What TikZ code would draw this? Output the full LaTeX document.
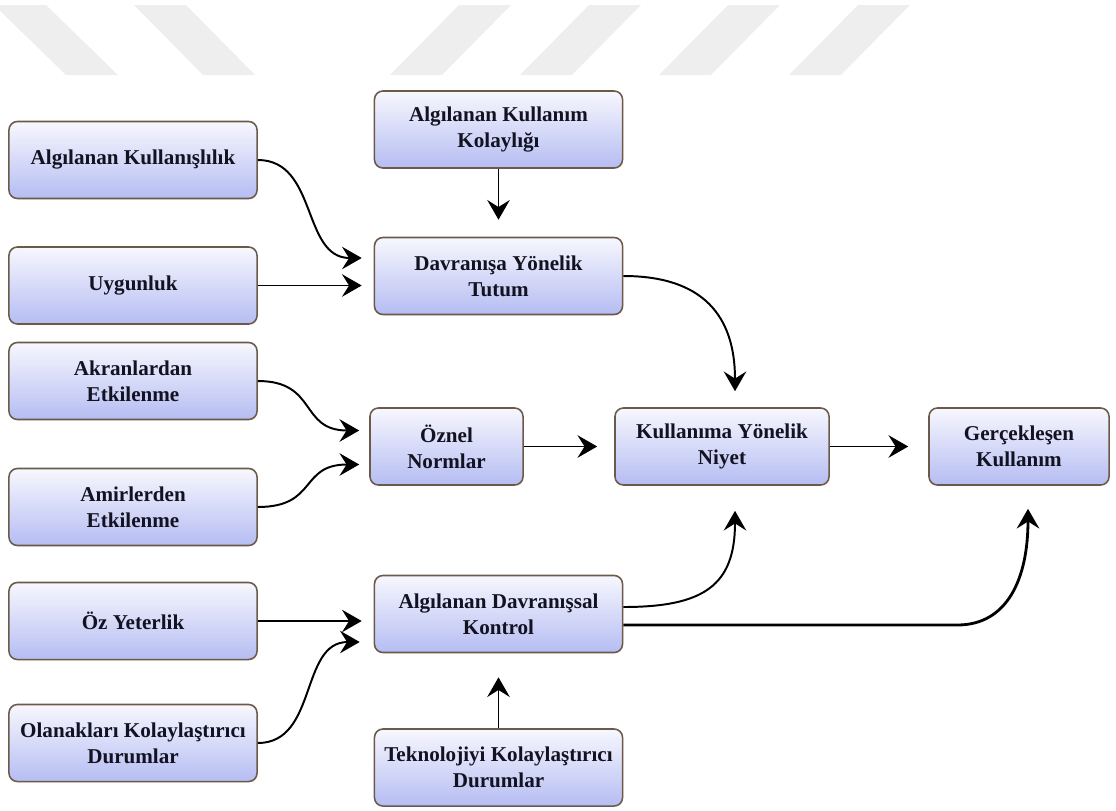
\documentclass[tikz,border=0pt]{standalone}
\usepackage{fontspec}
\setmainfont{Liberation Serif}
\usetikzlibrary{calc}
\usetikzlibrary{arrows.meta,shadows}
\usetikzlibrary{positioning}
\definecolor{boxedge}{rgb}{0.42,0.35,0.29}
\definecolor{boxtop}{rgb}{0.97,0.97,0.995}
\definecolor{boxbot}{rgb}{0.71,0.74,0.95}
\definecolor{wmgray}{rgb}{0.935,0.935,0.935}
\definecolor{ink}{rgb}{0.07,0.07,0.13}

\tikzset{
  factor/.style={draw=boxedge, line width=1.1pt, rounded corners=6pt,
    top color=boxtop, bottom color=boxbot,
    drop shadow={opacity=0.25, fill=brown!40, shadow xshift=0.7pt, shadow yshift=-0.7pt},
    minimum height=1.925cm, align=center, inner sep=2pt, text=ink,
    font=\fontsize{15}{18.5}\selectfont\bfseries},
  wide/.style={factor, minimum width=6.2cm},
  conn/.style={line width=1.4pt, -{Stealth[length=14pt,width=16pt,inset=5pt]}},
}

\begin{document}
\begin{tikzpicture}[x=0.025cm,y=-0.025cm]
  \useasboundingbox (0,0) rectangle (1116,810);
  \foreach \a/\b in {-6/66,134/203}
    \fill[wmgray] (\a,5) -- ++(52,0) -- (\b+52,75) -- (\b,75) -- cycle;
  \foreach \a in {390,520,659,789}
    \fill[wmgray] (\a,75) -- ++(52,0) -- ++(69,-70) -- ++(-52,0) -- cycle;

  \node[wide] (ak) at (133,160) {Algılanan Kullanışlılık};
  \node[wide] (uy) at (133,285.5) {Uygunluk};
  \node[wide] (ae) at (133,381) {Akranlardan\\Etkilenme};
  \node[wide] (ame) at (133,507) {Amirlerden\\Etkilenme};
  \node[wide] (oy) at (133,621) {Öz Yeterlik};
  \node[wide] (okd) at (133,743) {Olanakları Kolaylaştırıcı\\Durumlar};

  \node[wide] (akk) at (498.5,129.5) {Algılanan Kullanım\\Kolaylığı};
  \node[wide] (dyt) at (498.5,276) {Davranışa Yönelik\\Tutum};
  \node[factor, minimum width=3.825cm] (on) at (446.5,446.5) {Öznel\\Normlar};
  \node[wide] (adk) at (498.5,614) {Algılanan Davranışsal\\Kontrol};
  \node[wide] (tkd) at (498.5,767.5) {Teknolojiyi Kolaylaştırıcı\\Durumlar};

  \node[factor, minimum width=5.35cm] (kyn) at (722,446.5) {Kullanıma Yönelik\\Niyet};
  \node[factor, minimum width=4.5cm] (gk) at (1019,446.5) {Gerçekleşen\\Kullanım};

  \draw[conn] (ak.east) .. controls +(60,0) and +(-60,0) .. ($(dyt.west)+(-12,-18)$);
  \draw[conn] (uy.east) -- ($(uy.east -| dyt.west)+(-12,0)$);
  \draw[conn] (akk.south) -- ($(dyt.north)+(0,-17)$);
  \draw[conn] (ae.east) .. controls +(60,0) and +(-60,0) .. ($(on.west)+(-10,-16)$);
  \draw[conn] (ame.east) .. controls +(60,0) and +(-60,0) .. ($(on.west)+(-10,18)$);
  \draw[conn] (oy.east) -- ($(oy.east -| adk.west)+(-12,0)$);
  \draw[conn] (okd.east) .. controls +(60,0) and +(-60,0) .. ($(adk.west)+(-14,28)$);
  \draw[conn] (tkd.north) -- ($(adk.south)+(0,24)$);
  \draw[conn] (dyt.east) .. controls +(80,0) and +(0,-75) .. ($(kyn.north)+(13,-16)$);
  \draw[conn] (on.east) -- ($(kyn.west)+(-17,0)$);
  \draw[conn] (kyn.east) -- ($(gk.west)+(-20,0)$);
  \draw[conn] ($(adk.east)+(0,-7)$) .. controls +(80,0) and +(0,75) .. ($(kyn.south)+(13,25)$);
  \draw[conn, line width=2pt] ($(adk.east)+(0,11)$) -- ++(334,0)
    .. controls +(50,0) and +(0,70) .. ($(gk.south)+(9,23)$);
\end{tikzpicture}
\end{document}
